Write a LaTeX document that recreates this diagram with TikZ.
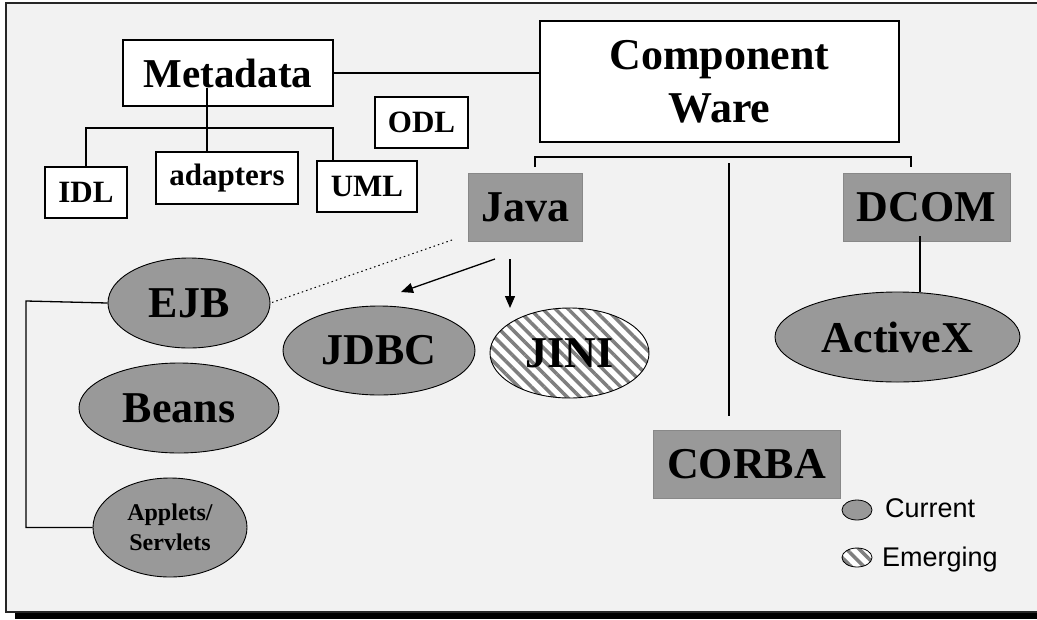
\documentclass[tikz,border=0pt]{standalone}
\usepackage{fontspec}
\setmainfont{Liberation Serif}
\newfontfamily\arialfont{Liberation Sans}
\usetikzlibrary{shapes.geometric,arrows.meta,patterns.meta}
\definecolor{bgc}{HTML}{F2F2F2}
\definecolor{gfill}{HTML}{999999}
\definecolor{gedge}{HTML}{888888}
\definecolor{hatch}{HTML}{7F7F7F}
\tikzset{
  wbox/.style={draw=black, fill=white, line width=1.2pt, inner sep=0pt, align=center},
  gbox/.style={draw=gedge, fill=gfill, line width=1pt, inner sep=0pt, align=center},
  gell/.style={ellipse, draw=black, fill=gfill, line width=0.9pt, inner sep=0pt, align=center},
  hell/.style={ellipse, draw=black, line width=0.9pt, inner sep=0pt, align=center,
     preaction={fill=white},
     pattern={Lines[angle=-45,distance=9pt,line width=3.5pt]}, pattern color=hatch},
  big/.style={font=\fontsize{44}{53}\selectfont\bfseries},
  mid/.style={font=\fontsize{31}{36}\selectfont\bfseries},
  conn/.style={line width=1.3pt, draw=black},
  arr/.style={conn, -{Triangle[length=12pt,width=10pt]}},
  legtext/.style={anchor=west, inner sep=0pt, font=\fontsize{27}{30}\selectfont\arialfont}
}
\begin{document}
\begin{tikzpicture}[x=1pt,y=-1pt]
\useasboundingbox (0,0) rectangle (1037,619);
% frame
\fill[white] (0,0) rectangle (1037,619);
\fill[bgc] (6,3) rectangle (1037,612);
\fill[black] (15,612.5) rectangle (1037,619);
\draw[line width=1.3pt, draw=black!85] (1037,3) -- (6,3) -- (6,612) -- (1037,612);

% white boxes
\node[wbox, minimum width=210pt, minimum height=66pt, font=\fontsize{41}{48}\selectfont\bfseries] (meta) at (228,73) {Metadata};
\node[wbox, minimum width=359pt, minimum height=121pt, big] (cw) at (719.5,81.5) {Component\\Ware};
\node[wbox, minimum width=93pt, minimum height=51pt, mid] (odl) at (421.5,122.5) {ODL};
\node[wbox, minimum width=82pt, minimum height=51pt, mid] (idl) at (86,192.5) {IDL};
\node[wbox, minimum width=142pt, minimum height=52pt, mid] (adapters) at (227,178) {adapters};
\node[wbox, minimum width=100pt, minimum height=51pt, mid] (uml) at (367,186.5) {UML};

% gray boxes
\node[gbox, minimum width=114pt, minimum height=68pt, big] (java) at (525,207) {Java};
\node[gbox, minimum width=167pt, minimum height=68pt, big] (dcom) at (926.5,207) {DCOM};
\node[gbox, minimum width=187pt, minimum height=68pt, big] (corba) at (746.5,464) {CORBA};

% ellipses
\node[gell, minimum width=162pt, minimum height=90pt, big] (ejb) at (189,303) {EJB};
\node[gell, minimum width=192pt, minimum height=89pt, big] (jdbc) at (379,350.5) {JDBC};
\node[hell, minimum width=159pt, minimum height=90pt, big] (jini) at (569.5,353) {JINI};
\node[gell, minimum width=200pt, minimum height=90pt, big] (beans) at (179,408) {Beans};
\node[gell, minimum width=154pt, minimum height=99pt, font=\fontsize{24}{30}\selectfont\bfseries] (app) at (170,527.5) {Applets/\\Servlets};
\node[gell, minimum width=245pt, minimum height=90pt, big] (activex) at (897.5,337) {ActiveX};

% legend
\node[gell, minimum width=30pt, minimum height=20pt, line width=0.8pt] (lcur) at (857,510) {};
\node[hell, minimum width=30pt, minimum height=19pt, line width=0.8pt] (lem) at (857,557.5) {};
\node[legtext] (tcur) at (885,508) {Current};
\node[legtext] (tem) at (882,560) {Emerging};

% Metadata -- Component Ware
\draw[conn] (meta.east) -- (meta.east -| cw.west);

% Metadata tree
\coordinate (mj) at (207,128);
\coordinate (mtop) at (207,88);
\coordinate (um) at (333,128);
\draw[conn] (mtop) -- (mj |- adapters.north);
\draw[conn] (idl.north) |- (um) -- (um |- uml.north);

% Component Ware tree
\coordinate (cl) at (535,157);
\coordinate (cr) at (911,157);
\coordinate (cld) at (535,167);
\coordinate (crd) at (911,167);
\coordinate (ctop) at (729,163);
\coordinate (cbot) at (729,416);
\draw[conn] (cld) -- (cl) -- (cr) -- (crd);
\draw[conn] (ctop) -- (cbot);

% DCOM -- ActiveX
\coordinate (dx) at (920,236);
\draw[conn] (dx) -- (dx |- activex.north);

% Java arrows
\coordinate (ja1) at (495,259);
\coordinate (ja1e) at (401,292);
\coordinate (ja2) at (510,259);
\coordinate (ja2e) at (510,308);
\draw[arr] (ja1) -- (ja1e);
\draw[arr] (ja2) -- (ja2e);

% dotted Java -- EJB
\coordinate (jd) at (452,240);
\draw[line width=1pt, dash pattern=on 1.5pt off 3pt] (jd) -- (ejb.east);

% left bracket EJB / Applets
\coordinate (lb) at (26,301);
\draw[conn] (ejb.west) -- (lb) |- (app.west);
\end{tikzpicture}
\end{document}
